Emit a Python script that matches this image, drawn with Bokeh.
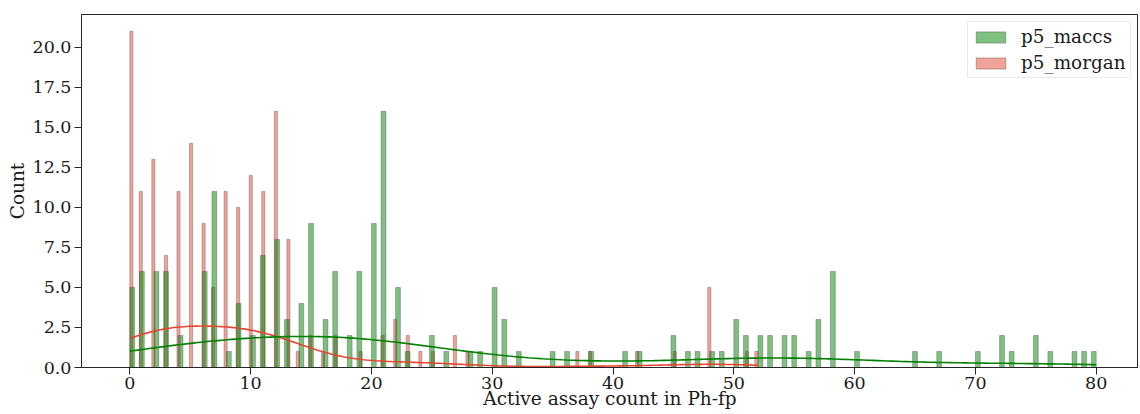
import numpy as np
from bokeh.plotting import figure
from bokeh.models import Range1d, FixedTicker, Legend, LegendItem, ColumnDataSource
from bokeh.embed import file_html
from bokeh.resources import INLINE

# ---- data (integer value -> number of compounds) ----
maccs_values = [0, 1, 2, 3, 4, 6, 7, 8, 9, 10, 11, 12, 13, 14, 15, 16, 17, 18, 19, 20,
                21, 22, 23, 25, 26, 28, 29, 30, 31, 32, 35, 36, 38, 41, 42, 45, 46, 47,
                48, 49, 50, 51, 52, 53, 54, 55, 56, 57, 58, 60, 65, 67, 70, 72, 73, 75,
                76, 78, 79, 80]
maccs_counts = [5, 6, 6, 6, 2, 6, 11, 1, 4, 2, 7, 8, 3, 4, 9, 3, 6, 2, 6, 9,
                16, 5, 1, 2, 1, 1, 1, 5, 3, 1, 1, 1, 1, 1, 1, 2, 1, 1,
                1, 1, 3, 2, 2, 2, 2, 2, 1, 3, 6, 1, 1, 1, 1, 2, 1, 2,
                1, 1, 1, 1]

morgan_values = [0, 1, 2, 3, 4, 5, 6, 7, 8, 9, 10, 11, 12, 13, 14, 15, 16, 17, 19, 21,
                 22, 23, 24, 25, 27, 28, 37, 38, 42, 45, 48, 51, 52]
morgan_counts = [21, 11, 13, 7, 11, 14, 9, 5, 11, 10, 12, 11, 16, 8, 1, 2, 1, 2, 1, 2,
                 3, 2, 1, 1, 2, 1, 1, 1, 1, 1, 5, 1, 1]

series_names = ["p5_maccs", "p5_morgan"]
x_ticks = [0, 10, 20, 30, 40, 50, 60, 70, 80]
y_ticks = [0, 2.5, 5, 7.5, 10, 12.5, 15, 17.5, 20]
y_tick_labels = ["0.0", "2.5", "5.0", "7.5", "10.0", "12.5", "15.0", "17.5", "20.0"]
x_label = "Active assay count in Ph-fp"
y_label = "Count"

N_BINS = 200
FONT = "DejaVu Serif"
GREEN = "#008000"
RED = "#e5462f"


def histogram(values, counts):
    data = np.repeat(np.array(values, dtype=float), counts)
    h, edges = np.histogram(data, bins=N_BINS)
    keep = h > 0
    return dict(left=edges[:-1][keep], right=edges[1:][keep], top=h[keep].astype(float),
                bottom=np.zeros(keep.sum())), edges[1] - edges[0]


def kde(values, counts, binwidth):
    data = np.repeat(np.array(values, dtype=float), counts)
    n = len(data)
    bw = data.std(ddof=1) * n ** (-1 / 5)
    grid = np.linspace(data.min(), data.max(), 200)
    dens = np.exp(-0.5 * ((grid[:, None] - data[None, :]) / bw) ** 2).sum(1) / (n * bw * np.sqrt(2 * np.pi))
    return grid, dens * n * binwidth


p = figure(width=1138, height=412, output_backend="svg", toolbar_location=None,
           x_range=Range1d(-4, 83.5), y_range=Range1d(0, 22.05),
           min_border_left=81, min_border_right=0, min_border_top=14, min_border_bottom=45)

p.xgrid.visible = False
p.ygrid.visible = False
p.outline_line_color = "#262626"
p.outline_line_width = 1
p.background_fill_color = "white"
p.border_fill_color = "white"

g_hist, g_bw = histogram(maccs_values, maccs_counts)
r_hist, r_bw = histogram(morgan_values, morgan_counts)

r_r = p.quad(source=ColumnDataSource(r_hist), left="left", right="right", top="top", bottom="bottom",
             fill_color=RED, fill_alpha=0.5, line_color="#333333", line_alpha=0.45, line_width=0.7)
g_r = p.quad(source=ColumnDataSource(g_hist), left="left", right="right", top="top", bottom="bottom",
             fill_color=GREEN, fill_alpha=0.5, line_color="#333333", line_alpha=0.45, line_width=0.7)

rx, ry = kde(morgan_values, morgan_counts, r_bw)
gx, gy = kde(maccs_values, maccs_counts, g_bw)
p.line(rx, ry, line_color=RED, line_width=1.6)
p.line(gx, gy, line_color=GREEN, line_width=1.6)

for ax in (p.xaxis[0], p.yaxis[0]):
    ax.axis_line_color = "#262626"
    ax.major_tick_line_color = "#262626"
    ax.major_tick_out = 7
    ax.major_tick_in = 0
    ax.minor_tick_line_color = None
    ax.major_label_text_font = FONT
    ax.major_label_text_font_size = "17.5px"
    ax.major_label_text_color = "#1a1a1a"
    ax.axis_label_text_font = FONT
    ax.axis_label_text_font_size = "18.5px"
    ax.axis_label_text_font_style = "normal"
    ax.axis_label_text_color = "#1a1a1a"

p.xaxis[0].ticker = FixedTicker(ticks=x_ticks)
p.xaxis[0].major_label_standoff = 2
p.xaxis[0].axis_label = x_label
p.xaxis[0].axis_label_standoff = -4

p.yaxis[0].ticker = FixedTicker(ticks=y_ticks)
p.yaxis[0].major_label_overrides = {t: l for t, l in zip(y_ticks, y_tick_labels)}
p.yaxis[0].major_label_standoff = 3
p.yaxis[0].axis_label = y_label
p.yaxis[0].axis_label_standoff = 2

legend = Legend(items=[LegendItem(label=series_names[0], renderers=[g_r]),
                       LegendItem(label=series_names[1], renderers=[r_r])],
                location=(886, 289), margin=0, padding=4, spacing=5,
                glyph_width=37, glyph_height=14, label_height=21, label_standoff=12,
                label_text_font=FONT, label_text_font_size="18.4px", label_text_color="#1a1a1a",
                border_line_color="#d5d5d5", border_line_width=1,
                background_fill_color="white", background_fill_alpha=0.85)
p.add_layout(legend)

open("out.html", "w").write(file_html(p, INLINE))
